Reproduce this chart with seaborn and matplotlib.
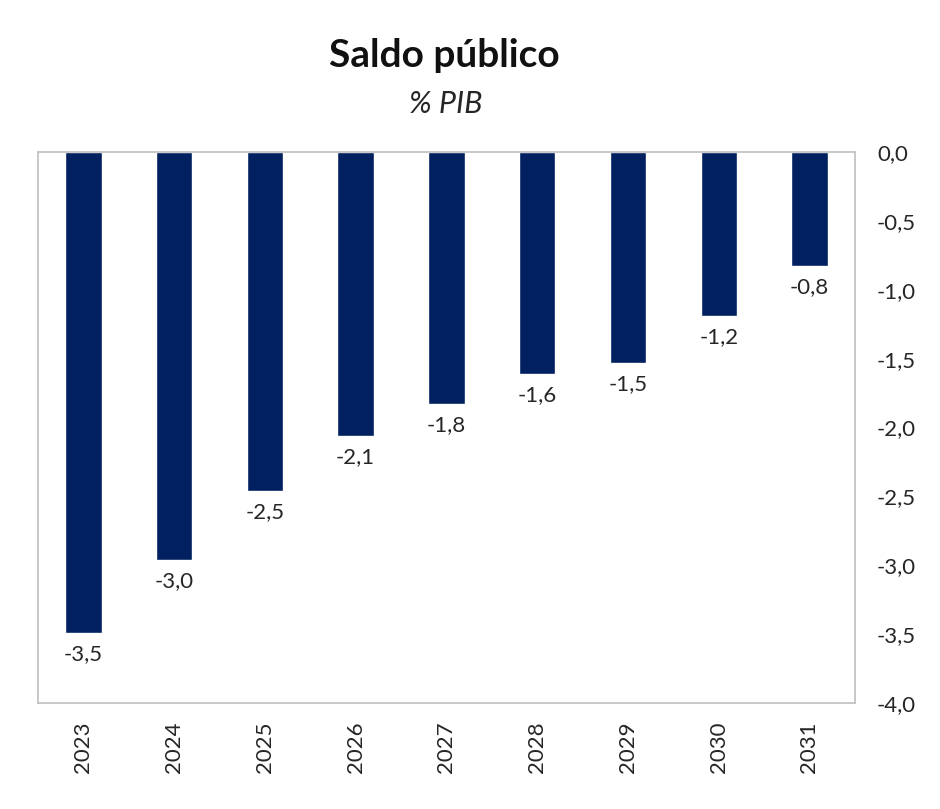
import matplotlib
matplotlib.use("Agg")
import matplotlib.pyplot as plt
import pandas as pd
import seaborn as sns
from matplotlib.ticker import FuncFormatter

years = ["2023", "2024", "2025", "2026", "2027", "2028", "2029", "2030", "2031"]
saldo = [-3.49, -2.96, -2.46, -2.06, -1.83, -1.61, -1.53, -1.19, -0.83]
y_ticks = [0.0, -0.5, -1.0, -1.5, -2.0, -2.5, -3.0, -3.5, -4.0]

TITLE = "Saldo público"
SUBTITLE = "% PIB"
BAR_COLOR = "#002060"
FRAME_COLOR = "#BFBFBF"
TEXT_COLOR = "#262626"


def comma(value: float) -> str:
    return f"{value:.1f}".replace(".", ",")


def main() -> None:
    sns.set_style("white")
    plt.rcParams["font.family"] = ["Lato", "DejaVu Sans"]

    df = pd.DataFrame({"year": years, "saldo": saldo})

    fig = plt.figure(figsize=(9.4, 8.09), dpi=100)
    ax = fig.add_axes([0.0404, 0.131, 0.869, 0.681])
    sns.barplot(data=df, x="year", y="saldo", color=BAR_COLOR, width=0.4,
                saturation=1, ax=ax)

    ax.set_ylim(-4.0, 0.0)
    ax.set_yticks(y_ticks)
    ax.yaxis.set_major_formatter(FuncFormatter(lambda v, _: comma(v)))
    ax.yaxis.tick_right()
    ax.tick_params(axis="y", length=0, pad=16, labelsize=16, labelcolor=TEXT_COLOR)
    ax.tick_params(axis="x", length=0, pad=13, labelsize=16, labelcolor=TEXT_COLOR,
                   rotation=90)
    ax.set_xlabel("")
    ax.set_ylabel("")

    for spine in ax.spines.values():
        spine.set_visible(True)
        spine.set_color(FRAME_COLOR)
        spine.set_linewidth(1.2)

    for idx, value in enumerate(saldo):
        ax.annotate(comma(value), (idx, value), xytext=(0, -8),
                    textcoords="offset points", ha="center", va="top",
                    fontsize=16, color=TEXT_COLOR)

    fig.text(0.473, 0.932, TITLE, ha="center", va="center", fontsize=28,
             fontweight="bold", color="#111111")
    fig.text(0.474, 0.872, SUBTITLE, ha="center", va="center", fontsize=22,
             style="italic", color=TEXT_COLOR)

    fig.savefig("out.png", dpi=100)
    plt.close(fig)


if __name__ == "__main__":
    main()
